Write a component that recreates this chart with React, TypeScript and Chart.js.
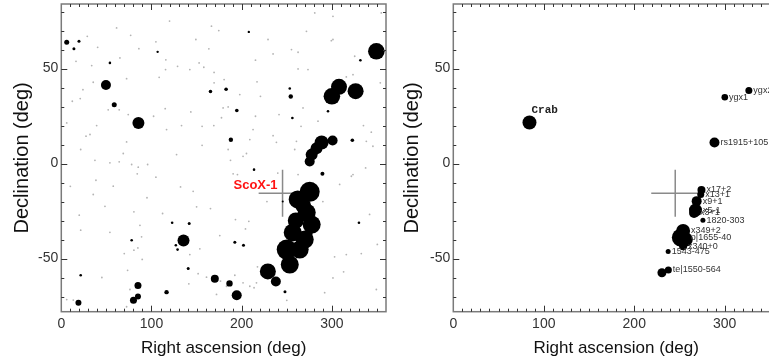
import React, { useEffect, useRef } from "react";
import { Chart, registerables } from "chart.js";
Chart.register(...registerables);

// ---------- axes ----------
const X_TICKS = [0, 100, 200, 300];
const Y_TICKS = [-50, 0, 50];
const RA_MIN = 0;
const RA_MAX = 360;
const DEC_MIN = -78;
const DEC_MAX = 84;
const X_TITLE = "Right ascension (deg)";
const Y_TITLE = "Declination (deg)";

// ---------- left panel: bright sources (ra, dec, size) ----------
const srcRA = [
  6, 19.6, 14, 49.5, 58.7, 85.5, 165.4, 182.7, 194.6, 188, 254.4, 253.3,
  300, 307.9, 326.3, 349.3,
  277.6, 275.4, 288.6, 300.8, 283, 289.5, 322.7,
  275.4, 262.1, 272.1, 277.6, 256.6, 269.9, 249.9, 264.3, 253.3, 229, 237.9, 268, 260, 276.5,
  135.5, 170.2, 186.5, 194.5, 85, 85, 80, 19, 116.7,
  141.8, 140.7, 192.4, 202, 248, 330, 122.9, 127, 128.9, 78, 21.5, 53.9, 207.9, 106.8, 331.6, 295.7, 256.2, 213.7, 245.5,
];
const srcDec = [
  63.8, 64.4, 60.5, 41.4, 30.9, 21.3, 37.9, 39.1, 27.9, 12.5, 35.3, 39.5,
  35.4, 40.4, 38.1, 59.1,
  4.7, 1.1, 11.1, 12.1, 8, -5.4, 12.3,
  -14.9, -18.9, -25.8, -32.1, -36.3, -40, -45.3, -45.3, -53.2, -56.8, -62.1, -22, -30, -37,
  -40.5, -60.7, -63.1, -69.3, -64.2, -70, -72, -73.3, -67.7,
  -31.6, -55.3, -41.4, -43, -67.5, -31.2, -31.2, -43, -45.3, -40.4, -58.8, 53, 69.3, 58.8, 54.4, 27.5, 24, -3.2, -20,
];
const srcSize = [
  2.5, 1.5, 1.5, 5, 2.5, 6, 1.8, 1.8, 1.8, 2.2, 2.2, 1.3,
  8.3, 8, 8, 8.3,
  6, 5, 7, 5, 6, 2, 1.8,
  10, 9, 9, 9, 9, 9, 10, 9, 9, 8, 5, 8, 8, 2,
  6, 4, 3.2, 5, 3.5, 3, 3.5, 3, 2.2,
  1.5, 1.5, 1.5, 1.5, 1.5, 1.3, 1.3, 1.3, 1.3, 1.3, 1.3, 1.3, 1.2, 1.2, 1.3, 1.3, 1.3, 1.3, 1,
];

// ---------- left panel: faint catalogue dots ----------
const faintRA = [
  166.5, 174.6, 149.2, 163.6, 104.9, 86, 61.3, 76.9, 65, 33.7, 16.3, 28.8, 40.3, 115.9, 128.9, 115.6, 142.5,
  152.8, 158, 169.4, 180.5, 169.4, 197.9, 108.5, 72.4, 35.4, 24, 12.2, 21, 64.2, 52, 115.2, 143.6, 179.4,
  185, 177.6, 215.3, 212.6, 209, 169.1, 156.1, 133.3, 116.7, 102.3, 74.2, 39.2, 6, 27.4, 31.8, 72.4, 21.5,
  68.7, 37.3, 53.9, 64.2, 78, 85.3, 95.7, 84.2, 104.9, 127.8, 156.1, 185, 201.5, 187.6, 190.5, 195.3,
  281, 301.2, 271.8, 299.4, 229.2, 255.2, 262.5, 234.8, 215.3, 262.5, 273.5, 325.3, 353.7, 323.4, 316, 217,
  220.8, 268, 241.4, 284.6, 265.8, 343.7, 234.8, 238.5, 260.7, 338.2, 345.5, 205.3, 258.8, 323.4, 337.4, 262.5,
  35.4, 57.6, 38.4, 48.4, 19.9, 21.5, 53.9, 80.5, 87.2, 89, 80.5, 84.9, 69.8, 89.7, 73.5, 76.1, 112.3, 132.2,
  146.2, 150, 165.4, 153.6, 142.5, 151.7, 161, 141.4, 172.1, 175.7, 193.1, 207.9, 204.2, 192.4, 201.5, 209,
  213.7, 216.4, 217.5, 176.5, 183.2, 6, 13.3, 72.4, 308.6, 303, 341.8, 321.6, 316, 292, 301.2, 349.3, 332.6,
  313, 350.4, 331.9, 301.2, 354.8, 228, 240, 10, 45, 95, 120, 250, 290, 335,
];
const faintDec = [
  72.3, 70, 65.3, 60.4, 64.1, 60.5, 71.4, 67.5, 55.6, 51.6, 53.8, 67, 61.2, 54.6, 51.2, 49.5, 49.5,
  53, 50.7, 48, 44.2, 42.5, 36.3, 45.4, 44.7, 42.8, 38.9, 32.8, 34.2, 28.3, 28.3, 28.9, 27.2, 29.3,
  29.8, 24.1, 24.9, 17.9, 12.6, 20, 19.6, 20, 17.9, 24.9, 25.8, 20, 21.4, 14.4, 15.3, 11.4, 7.4,
  5.3, 1.7, 0.4, 0.9, -0.5, -1.9, -0.5, -5.4, -7.2, 4.7, 9.6, 7.4, 3.8, 1.7, -5.4, -5.8,
  79.3, 77.5, 69.6, 64.7, 65.3, 60, 58.6, 57.7, 54.4, 49.8, 49.5, 56.5, 42.5, 46.8, 45.6, 43,
  35.4, 29.3, 25.8, 22.3, 19.6, 16.5, 14.7, 11.2, 11.7, 11.7, 9.1, 5.3, 7.4, -5.8, -2.3, -5.8,
  -16.3, -11.9, -8.8, -22.5, -27.2, -35.1, -36.2, -25.4, -32.5, -38.6, -45.6, -44.4, -47.4, -50.5, -56.2, -66.3, -26.3, -12.3,
  -14.6, -22.8, -23.7, -44.9, -47.9, -58, -59.8, -63.3, -68.9, -37.9, -29.5, -30.4, -34.4, -58.8, -62.8, -64.6,
  -65.4, -62.8, -54.4, -61.9, -64.6, -71.6, -71.9, -75.4, -11, -49.1, -26.8, -6.7, -47.9, -68, -60.2, -66.3, -47.4,
  -57, -42.6, 54.2, 65.3, 79.3, -20, -5, -12, -60, -18, 75, -72, -20, 20,
];

// ---------- Sco X-1 crosshair ----------
const scoRA = 245.3;
const scoDec = -15.6;
const crossHalfRA = 26.5;
const crossHalfDec = 12.4;
const scoLabel = "ScoX-1";

// ---------- right panel: labelled sources ----------
const catNames = [
  "ygx1", "ygx2", "rs1915+105", "x17+2", "x13+1", "x9+1", "x5-1", "x3+1", "1820-303",
  "x349+2", "o|1655-40", "x340+0", "1543-475", "te|1550-564", "", "",
];
const catRA = [300.1, 326.7, 288.7, 274.3, 273.5, 269, 267.7, 266.1, 275.9, 254, 251.5, 254, 237.5, 237.7, 230.6, 257];
const catDec = [34.9, 38.4, 11.1, -13.9, -16.3, -19.8, -24.5, -26, -29.8, -35.5, -39, -43.5, -46.3, -56, -57.5, -40];
const catSize = [3.3, 3.5, 5, 4, 3.5, 5, 6.5, 5, 2.5, 7, 9, 4, 2.5, 3.5, 4.5, 7];
const crabName = "Crab";
const crabRA = 84.2;
const crabDec = 21.6;
const crabSize = 7;

const FONT = "'Liberation Sans', Arial, sans-serif";

function pts(ra: number[], dec: number[]) {
  return ra.map((x, i) => ({ x, y: dec[i] }));
}

const framePlugin = {
  id: "frameTicks",
  afterDraw(chart: any) {
    const { ctx, chartArea: a, scales } = chart;
    const xs = scales.x;
    const ys = scales.y;
    ctx.save();
    ctx.strokeStyle = "#7a7a7a";
    ctx.lineWidth = 1.5;
    ctx.strokeRect(a.left, a.top, a.right - a.left, a.bottom - a.top);
    ctx.strokeStyle = "#333";
    ctx.lineWidth = 1;
    ctx.beginPath();
    for (let v = RA_MIN + 10; v < RA_MAX; v += 10) {
      const px = Math.round(xs.getPixelForValue(v)) + 0.5;
      const len = v % 100 === 0 ? 6 : 3;
      ctx.moveTo(px, a.bottom);
      ctx.lineTo(px, a.bottom - len);
      ctx.moveTo(px, a.top);
      ctx.lineTo(px, a.top + len);
    }
    for (let v = -70; v <= 80; v += 10) {
      const py = Math.round(ys.getPixelForValue(v)) + 0.5;
      const len = v % 50 === 0 ? 6 : 3;
      ctx.moveTo(a.left, py);
      ctx.lineTo(a.left + len, py);
      ctx.moveTo(a.right, py);
      ctx.lineTo(a.right - len, py);
    }
    ctx.stroke();
    ctx.restore();
  },
};

const scoPlugin = {
  id: "scoLabel",
  afterDatasetsDraw(chart: any) {
    const { ctx, scales } = chart;
    const px = scales.x.getPixelForValue(scoRA);
    const py = scales.y.getPixelForValue(scoDec);
    ctx.save();
    ctx.fillStyle = "#ff1414";
    ctx.font = "bold 13px " + FONT;
    ctx.textAlign = "right";
    ctx.textBaseline = "middle";
    ctx.fillText(scoLabel, px - 5, py - 8);
    ctx.restore();
  },
};

const catPlugin = {
  id: "catLabels",
  afterDatasetsDraw(chart: any) {
    const { ctx, scales } = chart;
    ctx.save();
    ctx.fillStyle = "#333";
    ctx.font = "9px " + FONT;
    ctx.textAlign = "left";
    ctx.textBaseline = "middle";
    catNames.forEach((n, i) => {
      if (!n) return;
      const px = scales.x.getPixelForValue(catRA[i]);
      const py = scales.y.getPixelForValue(catDec[i]);
      ctx.fillText(n, px + catSize[i] + 1, py);
    });
    const cx = scales.x.getPixelForValue(crabRA);
    const cy = scales.y.getPixelForValue(crabDec);
    ctx.font = "bold 11px 'Liberation Mono', 'DejaVu Sans Mono', monospace";
    ctx.fillStyle = "#222";
    ctx.fillText(crabName, cx + 2, cy - 12);
    ctx.restore();
  },
};

function crossDatasets() {
  const common = {
    showLine: true,
    borderColor: "#8a8a8a",
    borderWidth: 1.5,
    pointRadius: 0,
    order: 1,
  };
  return [
    { ...common, data: [{ x: scoRA - crossHalfRA, y: scoDec }, { x: scoRA + crossHalfRA, y: scoDec }] },
    { ...common, data: [{ x: scoRA, y: scoDec - crossHalfDec }, { x: scoRA, y: scoDec + crossHalfDec }] },
  ];
}

function zeroPad(s: any) {
  s.paddingTop = 0;
  s.paddingBottom = 0;
  s.paddingLeft = 0;
  s.paddingRight = 0;
  if (s._margins) {
    s._margins.top = 0;
    s._margins.bottom = 0;
    s._margins.left = 0;
    s._margins.right = 0;
  }
}

function makeOptions(yWidth: number) {
  return {
    animation: false,
    responsive: false,
    devicePixelRatio: 1,
    events: [],
    layout: { autoPadding: false, padding: { top: 4, right: 4, left: 0, bottom: 0 } },
    plugins: { legend: { display: false }, tooltip: { enabled: false } },
    scales: {
      x: {
        type: "linear",
        min: RA_MIN,
        max: RA_MAX,
        grid: { display: false, drawTicks: false },
        border: { display: false },
        afterBuildTicks: (s: any) => {
          s.ticks = X_TICKS.map((v) => ({ value: v }));
        },
        afterFit: (s: any) => {
          s.height = 50.3;
          zeroPad(s);
        },
        ticks: { autoSkip: false, maxRotation: 0, padding: 4, color: "#333", font: { family: FONT, size: 14 } },
        title: {
          display: true,
          text: X_TITLE,
          color: "#111",
          font: { family: FONT, size: 17 },
          padding: { top: 0, bottom: 3 },
        },
      },
      y: {
        type: "linear",
        min: DEC_MIN,
        max: DEC_MAX,
        grid: { display: false, drawTicks: false },
        border: { display: false },
        afterBuildTicks: (s: any) => {
          s.ticks = Y_TICKS.map((v) => ({ value: v }));
        },
        afterFit: (s: any) => {
          s.width = yWidth;
          zeroPad(s);
        },
        ticks: { autoSkip: false, padding: 3, color: "#333", font: { family: FONT, size: 14 } },
        title: {
          display: true,
          text: Y_TITLE,
          color: "#111",
          font: { family: FONT, size: 20 },
          padding: { top: 10, bottom: 0 },
        },
      },
    },
  };
}

function Panel(props: { left: number; width: number; datasets: any[]; plugins: any[]; yWidth: number }) {
  const ref = useRef<HTMLCanvasElement | null>(null);
  useEffect(() => {
    if (!ref.current) return;
    const chart = new Chart(ref.current, {
      type: "scatter",
      data: { datasets: props.datasets },
      options: makeOptions(props.yWidth) as any,
      plugins: props.plugins,
    });
    return () => chart.destroy();
  }, []);
  return (
    <canvas
      ref={ref}
      width={props.width}
      height={362}
      style={{ position: "absolute", left: props.left, top: 0, width: props.width, height: 362 }}
    />
  );
}

export default function App() {
  const leftSets = [
    {
      data: pts(srcRA, srcDec),
      pointRadius: srcSize,
      pointBackgroundColor: "#000",
      pointBorderWidth: 0,
      order: 0,
    },
    ...crossDatasets(),
    {
      data: pts(faintRA, faintDec),
      pointRadius: 0.9,
      pointBackgroundColor: "#b4b4b4",
      pointBorderWidth: 0,
      order: 2,
    },
  ];
  const rightSets = [
    {
      data: [...pts(catRA, catDec), { x: crabRA, y: crabDec }],
      pointRadius: [...catSize, crabSize],
      pointBackgroundColor: "#000",
      pointBorderWidth: 0,
      order: 0,
    },
    ...crossDatasets(),
  ];
  return (
    <div
      style={{
        position: "fixed",
        left: 0,
        top: 0,
        width: 769,
        height: 362,
        overflow: "hidden",
        background: "#fff",
      }}
    >
      <Panel left={0} width={390} datasets={leftSets} plugins={[framePlugin, scoPlugin]} yWidth={61.3} />
      <Panel left={390} width={393} datasets={rightSets} plugins={[framePlugin, catPlugin]} yWidth={63.3} />
    </div>
  );
}
